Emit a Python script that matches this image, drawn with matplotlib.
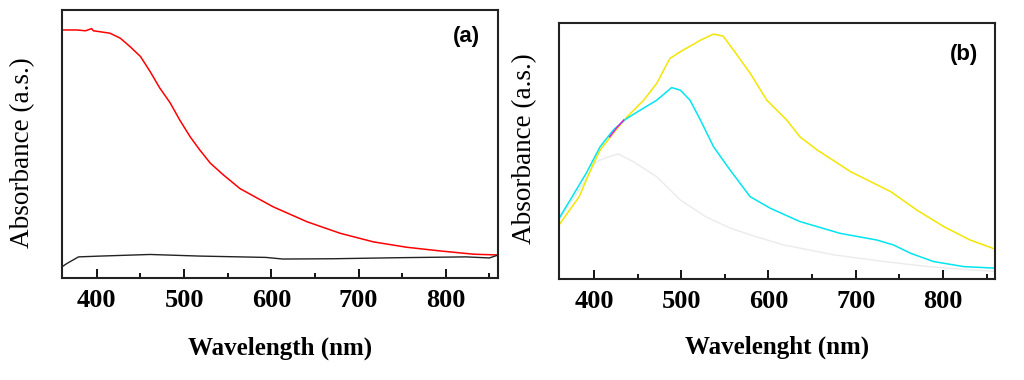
"""UV-Vis absorbance spectra, panels (a) and (b)"""

import matplotlib
matplotlib.use("Agg")
import matplotlib.pyplot as plt
from matplotlib.ticker import MultipleLocator

# panel (a)
wl_a_red = [360, 377, 387, 394, 396, 415, 427, 438, 450, 461, 472, 484, 495, 507, 518, 530, 545, 564,
            602, 641, 679, 717, 755, 794, 832, 860]
abs_a_red = [0.925, 0.925, 0.922, 0.930, 0.922, 0.913, 0.894, 0.863, 0.826, 0.770, 0.709, 0.653, 0.589,
             0.526, 0.477, 0.428, 0.384, 0.333, 0.265, 0.209, 0.166, 0.134, 0.114, 0.100, 0.088, 0.085]
wl_a_black = [360, 366, 379, 404, 461, 518, 564, 594, 613, 670, 747, 823, 850, 860]
abs_a_black = [0.041, 0.054, 0.078, 0.081, 0.087, 0.081, 0.078, 0.076, 0.070, 0.071, 0.075, 0.078, 0.074, 0.085]

# panel (b)
wl_b_yellow = [360, 383, 398, 407, 422, 438, 457, 472, 487, 499, 522, 537, 548, 560, 579, 598, 621,
               636, 656, 694, 740, 770, 801, 831, 860]
abs_b_yellow = [0.211, 0.321, 0.440, 0.503, 0.568, 0.633, 0.698, 0.764, 0.861, 0.887, 0.932, 0.956,
                0.948, 0.893, 0.803, 0.698, 0.620, 0.555, 0.503, 0.419, 0.341, 0.269, 0.204, 0.152, 0.116]
wl_b_cyan = [360, 375, 391, 407, 422, 436, 453, 472, 489, 499, 510, 522, 537, 556, 579, 602, 636, 682,
             724, 743, 763, 789, 824, 860]
abs_b_cyan = [0.237, 0.321, 0.412, 0.516, 0.581, 0.623, 0.659, 0.698, 0.747, 0.737, 0.698, 0.620,
              0.516, 0.425, 0.321, 0.276, 0.224, 0.178, 0.152, 0.133, 0.100, 0.068, 0.048, 0.042]
wl_b_magenta = [418, 426, 434]
abs_b_magenta = [0.555, 0.590, 0.620]
wl_b_gray = [360, 383, 402, 407, 417, 428, 445, 472, 499, 528, 555, 579, 617, 675, 732, 789, 860]
abs_b_gray = [0.230, 0.347, 0.455, 0.464, 0.477, 0.488, 0.458, 0.399, 0.308, 0.243, 0.200, 0.172,
              0.133, 0.094, 0.068, 0.046, 0.029]

plt.rcParams['font.family'] = ['Liberation Serif', 'DejaVu Serif']

fig = plt.figure(figsize=(10.24, 3.8), dpi=100)
ax1 = fig.add_axes([0.0605, 0.269, 0.426, 0.705])
ax2 = fig.add_axes([0.546, 0.266, 0.426, 0.674])

ax1.plot(wl_a_red, abs_a_red, color="#ff0000", linewidth=1.1)
ax1.plot(wl_a_black, abs_a_black, color="#222222", linewidth=1.0)

ax2.plot(wl_b_gray, abs_b_gray, color="#ebebeb", linewidth=1.0)
ax2.plot(wl_b_yellow, abs_b_yellow, color="#f2e600", linewidth=1.1)
ax2.plot(wl_b_cyan, abs_b_cyan, color="#00e5ee", linewidth=1.1)
ax2.plot(wl_b_magenta, abs_b_magenta, color="#e020e0", linewidth=1.1)

# ax, tag, xlabel, tag x, tag y, ylabel x (px), ylabel centre (px), xlabel pad
panels = [(ax1, "(a)", "Wavelength (nm)", 0.927, 0.899, 23, 153, 18),
          (ax2, "(b)", "Wavelenght (nm)", 0.929, 0.878, 525, 149, 16)]
for ax, tag, lab, tx, ty, ylx, yly, xpad in panels:
    ax.set_xlim(360, 860)
    ax.set_ylim(0, 1)
    ax.xaxis.set_major_locator(MultipleLocator(100))
    ax.xaxis.set_minor_locator(MultipleLocator(50))
    ax.set_yticks([])
    ax.tick_params(axis='x', which='major', direction='in', length=6.5, width=1.3,
                   labelsize=19, pad=8, top=False)
    ax.tick_params(axis='x', which='minor', direction='in', length=3.5, width=1.3, top=False)
    for lbl in ax.get_xticklabels():
        lbl.set_fontweight('bold')
    for s in ax.spines.values():
        s.set_linewidth(1.5)
        s.set_color("#222222")
    ax.set_xlabel(lab, fontsize=18, fontweight='bold', labelpad=xpad)
    ax.set_ylabel("Absorbance (a.s.)", fontsize=19.5, va='center')
    bb = ax.get_position()
    ax.yaxis.set_label_coords(ylx / 1024, 1 - yly / 380, transform=fig.transFigure)
    ax.text(tx, ty, tag, transform=ax.transAxes, ha='center', va='center',
            fontsize=16, fontweight='bold', family=['Liberation Sans', 'DejaVu Sans'])

plt.savefig("out.png", dpi=100)
plt.close()
